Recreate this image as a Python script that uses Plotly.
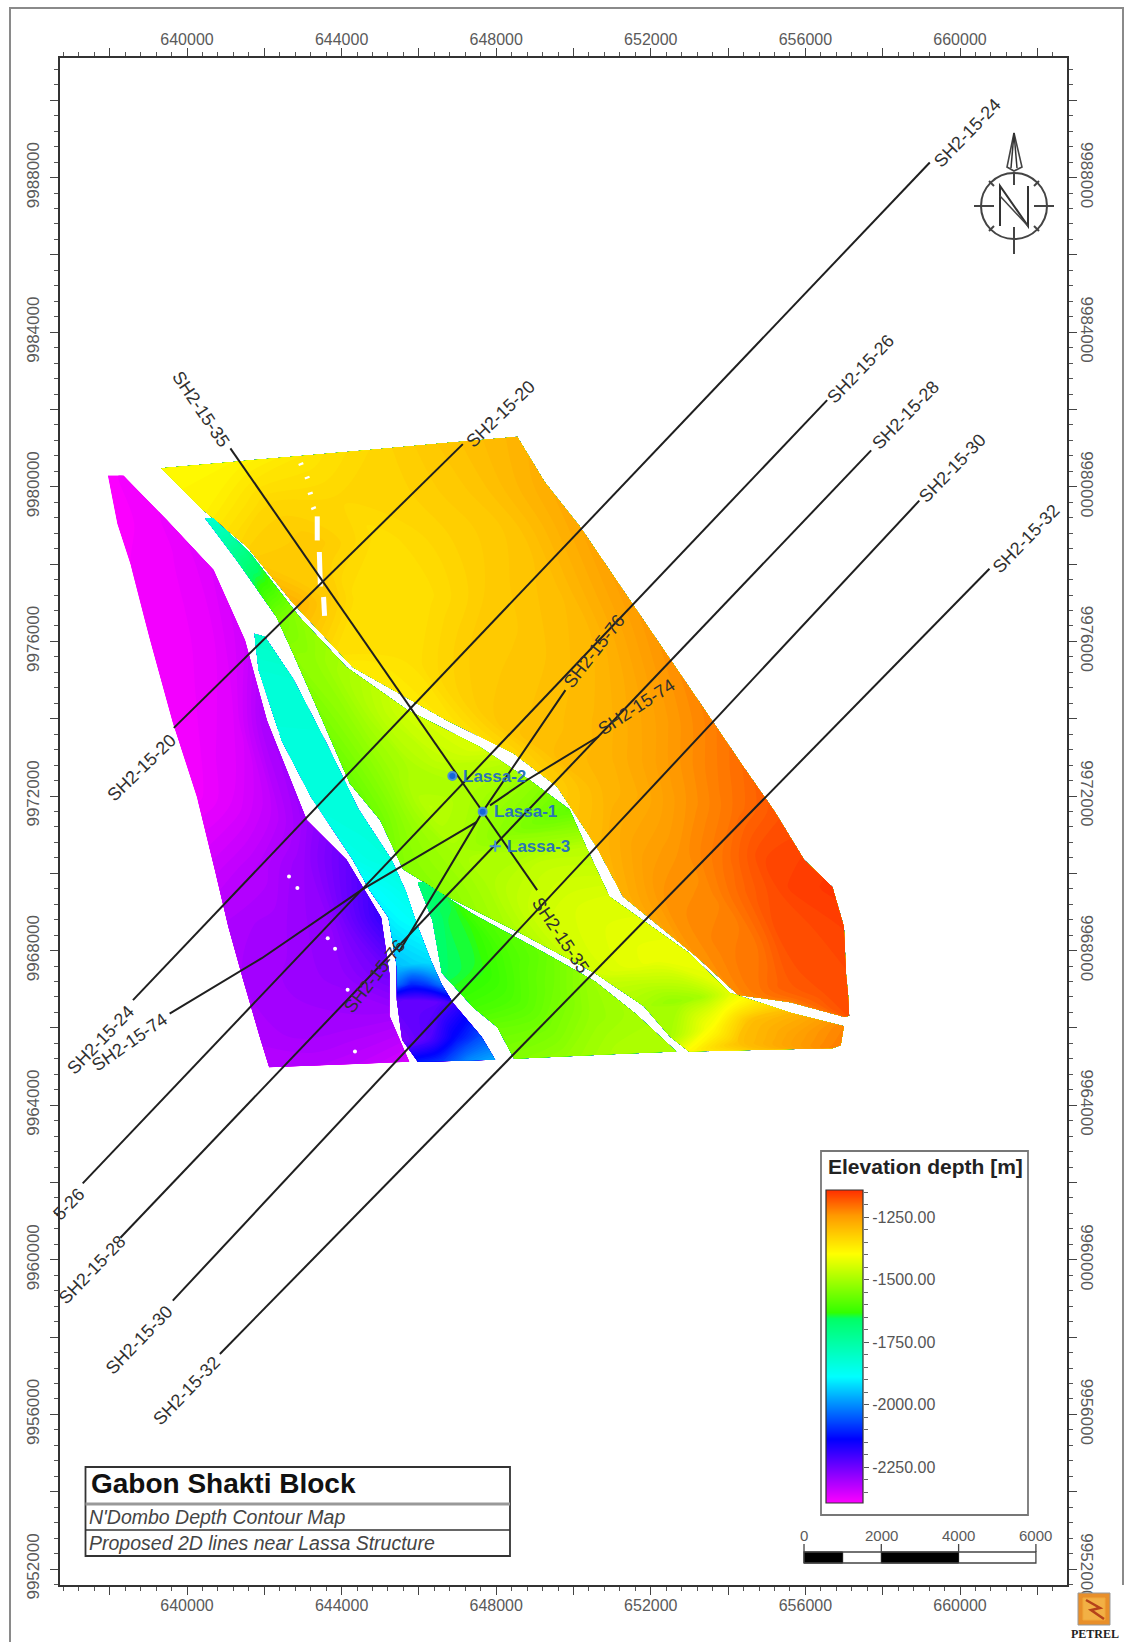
import numpy as np
import plotly.graph_objects as go

# ---------- data (map metres, depth in metres) ----------
X_TICKS = list(range(636000, 664000, 2000))
X_LABELLED = [640000, 644000, 648000, 652000, 656000, 660000]
Y_TICKS = list(range(9952000, 9992000, 2000))
Y_LABELLED = [9952000, 9956000, 9960000, 9964000, 9968000, 9972000, 9976000, 9980000, 9984000, 9988000]
DEPTH_TICKS = [-1250, -1500, -1750, -2000, -2250]
DEPTH_LABELS = ["-1250.00", "-1500.00", "-1750.00", "-2000.00", "-2250.00"]
DEPTH_MIN, DEPTH_MAX = -2393, -1141
SCALE_MARKS = [0, 2000, 4000, 6000]
SCALE_BLACK = [(0, 1000), (2000, 4000)]

WEST_LX = [637952, 638196, 638548, 639036, 639632, 640255, 640715, 641068, 641447, 641880, 642124]
WEST_LY = [9980291, 9979045, 9977961, 9976065, 9973898, 9971975, 9970105, 9968615, 9967261, 9965771, 9964985]
WEST_RX = [638359, 639496, 640688, 641501, 642070, 643099, 644129, 645023, 645239, 645239, 645754]
WEST_RY = [9980291, 9979126, 9977853, 9976038, 9973952, 9971379, 9970349, 9968859, 9967396, 9966313, 9965121]
WEST_Z = [
    [-2385, -2385, -2385, -2385],
    [-2385, -2385, -2380, -2375],
    [-2385, -2380, -2375, -2360],
    [-2385, -2380, -2370, -2345],
    [-2385, -2375, -2360, -2300],
    [-2380, -2360, -2330, -2290],
    [-2340, -2320, -2290, -2240],
    [-2310, -2300, -2280, -2190],
    [-2305, -2295, -2285, -2250],
    [-2310, -2300, -2300, -2300],
    [-2320, -2320, -2330, -2350],
]

CYAN_LX = [641745, 641853, 642449, 643208, 644291, 644725, 645212, 645429, 645429, 645429, 645565, 645971]
CYAN_LY = [9976201, 9975252, 9973437, 9971975, 9970349, 9969563, 9968859, 9967586, 9967125, 9966719, 9965690, 9965121]
CYAN_RX = [642016, 642747, 643614, 644427, 645294, 645673, 645944, 646323, 646594, 646892, 647623, 647976]
CYAN_RY = [9976119, 9975036, 9973356, 9971677, 9970349, 9969509, 9968697, 9967721, 9967125, 9966638, 9965771, 9965175]
CYAN_Z = [
    [-1800, -1800, -1800, -1800],
    [-1825, -1825, -1825, -1825],
    [-1835, -1835, -1835, -1835],
    [-1835, -1835, -1835, -1835],
    [-1860, -1850, -1845, -1840],
    [-1890, -1880, -1870, -1860],
    [-1900, -1890, -1885, -1880],
    [-1950, -1940, -1930, -1920],
    [-2030, -2100, -2080, -2020],
    [-2230, -2240, -2240, -2200],
    [-2260, -2220, -2130, -2060],
    [-2110, -2080, -2000, -1970],
]

LIME_LX = [640472, 641284, 642314, 642747, 643506, 644210, 644996, 645592, 646729, 648572, 650549, 651822, 652500, 652987, 656699]
LIME_LY = [9979180, 9978097, 9976634, 9975686, 9973952, 9972327, 9971379, 9970105, 9969401, 9968480, 9967423, 9966557, 9965771, 9965392, 9965473]
LIME_RX = [640688, 641637, 642910, 644129, 645700, 647569, 648870, 649899, 650332, 650928, 652987, 654044, 655615, 656997, 656915]
LIME_RY = [9979180, 9978286, 9976634, 9975334, 9974223, 9973275, 9972408, 9971649, 9970674, 9969401, 9967938, 9966909, 9966394, 9966042, 9965554]
LIME_Z = [
    [-1820, -1820, -1820, -1820],
    [-1720, -1700, -1700, -1680],
    [-1560, -1550, -1540, -1530],
    [-1530, -1525, -1510, -1500],
    [-1550, -1520, -1480, -1450],
    [-1570, -1510, -1470, -1440],
    [-1560, -1480, -1500, -1520],
    [-1540, -1500, -1540, -1580],
    [-1530, -1490, -1470, -1480],
    [-1490, -1450, -1440, -1440],
    [-1450, -1430, -1420, -1420],
    [-1500, -1520, -1500, -1430],
    [-1500, -1400, -1300, -1290],
    [-1390, -1300, -1260, -1225],
    [-1220, -1220, -1220, -1220],
]

GREEN_LX = [645971, 646350, 646594, 647407, 648030, 648463]
GREEN_LY = [9969753, 9968778, 9967423, 9966529, 9966015, 9965202]
GREEN_RX = [646106, 647407, 649303, 650549, 651606, 652662]
GREEN_RY = [9969780, 9968940, 9967911, 9967207, 9966367, 9965392]
GREEN_Z = [
    [-1680, -1680, -1680, -1680],
    [-1680, -1650, -1640, -1610],
    [-1660, -1640, -1600, -1570],
    [-1610, -1600, -1560, -1510],
    [-1570, -1560, -1520, -1500],
    [-1540, -1520, -1490, -1490],
]

NORTH_LX = [639334, 640417, 641555, 642747, 644291, 646729, 648436, 649574, 650603, 651281, 653204, 654260, 655615, 656997]
NORTH_LY = [9980481, 9979397, 9978449, 9976986, 9975334, 9973952, 9973112, 9972245, 9970674, 9969401, 9967830, 9966854, 9966665, 9966286]
NORTH_RX = [648544, 649249, 650170, 651145, 651958, 653583, 654396, 655209, 655967, 656699, 656997, 657051, 657105, 657132]
NORTH_RY = [9981293, 9980129, 9978964, 9977528, 9976336, 9973952, 9972760, 9971595, 9970349, 9969645, 9968615, 9967396, 9966854, 9966313]
NORTH_Z = [
    [-1390, -1385, -1360, -1335, -1310, -1285],
    [-1380, -1335, -1335, -1330, -1310, -1275],
    [-1330, -1315, -1350, -1330, -1310, -1265],
    [-1280, -1350, -1350, -1320, -1300, -1255],
    [-1370, -1350, -1320, -1310, -1290, -1245],
    [-1360, -1310, -1300, -1285, -1255, -1220],
    [-1335, -1295, -1285, -1260, -1230, -1200],
    [-1320, -1290, -1270, -1240, -1210, -1180],
    [-1290, -1260, -1240, -1210, -1170, -1160],
    [-1280, -1240, -1230, -1190, -1160, -1150],
    [-1240, -1220, -1210, -1170, -1170, -1160],
    [-1230, -1210, -1190, -1180, -1170, -1170],
    [-1220, -1200, -1190, -1180, -1170, -1170],
    [-1200, -1190, -1180, -1180, -1170, -1170],
]

# seismic lines: (name, eastings, northings)
LINE_NAMES = ["SH2-15-24", "SH2-15-20", "SH2-15-26", "SH2-15-28", "SH2-15-30", "SH2-15-32", "SH2-15-35", "SH2-15-76", "SH2-15-74"]
LINE_X = [
    [638602, 659218], [639659, 647136], [637302, 656563], [638277, 657701],
    [639632, 658947], [640851, 660762], [641122, 649059],
    [645483, 647650, 649791],
    [639551, 641935, 644508, 647488, None, 647840, 648788, 650657],
]
LINE_Y = [
    [9966719, 9988391], [9973762, 9981104], [9961978, 9982242], [9960570, 9980941],
    [9958944, 9979641], [9957563, 9977880], [9980995, 9969563],
    [9967965, 9971595, 9974738],
    [9966367, 9967803, 9969563, 9971324, None, 9971757, 9972408, 9973546],
]
LABEL_TEXT = ["SH2-15-24", "SH2-15-24", "SH2-15-20", "SH2-15-20", "SH2-15-26", "5-26", "SH2-15-28", "SH2-15-28",
              "SH2-15-30", "SH2-15-30", "SH2-15-32", "SH2-15-32", "SH2-15-35", "SH2-15-35", "SH2-15-76", "SH2-15-76",
              "SH2-15-74", "SH2-15-74"]
LABEL_X = [660193, 637763, 648111, 638819, 657430, 636950, 658595, 637546, 659814, 638765, 661710, 639984,
           640363, 649655, 650549, 644860, 651633, 638521]
LABEL_Y = [9989150, 9965690, 9981889, 9972733, 9983054, 9961436, 9981862, 9959730, 9980481, 9957915, 9978639, 9956614,
           9982025, 9968399, 9975740, 9967342, 9974304, 9965635]
LABEL_ANGLE = [-46, -46, -44, -44, -46, -46, -46, -46, -46, -46, -46, -46, 56, 56, -52, -52, -33, -35]

WELL_NAMES = ["Lassa-2", "Lassa-1", "Lassa-3"]
WELL_X = [646865, 647650, 647976]
WELL_Y = [9972516, 9971595, 9970701]
WELL_SYMBOLS = ["circle", "circle", "cross-thin"]
WELL_LABEL_X = [647100, 647900, 648230]

GAP_X = [642937, 642960, None, 643099, 643120, None, 643181, 643200, None, 643262, 643285, None,
         643370, 643370, None, 643424, 643452, None, 643533, 643560]
GAP_Y = [9980616, 9980560, None, 9980264, 9980210, None, 9979858, 9979800, None, 9979478, 9979420, None,
         9979235, 9978612, None, 9978314, 9977420, None, 9977149, 9976661]
SPECK_X = [642639, 642856, 643641, 643831, 644156, 644346, 642341]
SPECK_Y = [9969916, 9969618, 9968317, 9968046, 9966990, 9965392, 9973627]

# ---------- style ----------
W, H = 1125, 1642
L, R, T, B = 60, 1067, 58, 1585
PXM = 0.03865
X0 = 640000 + (L - 187) / PXM
X1 = 640000 + (R - 187) / PXM
Y0 = 9952000 + (1569 - B) / PXM
Y1 = 9952000 + (1569 - T) / PXM
FONT = "Liberation Sans"
TICK = "#5a5a5a"
COLORSCALE = [[0, "#ff00ff"], [0.205, "#0000ff"], [0.405, "#00ffff"], [0.59, "#00ff66"], [0.61, "#33ff00"],
              [0.797, "#ffff00"], [0.86, "#ffcc00"], [0.92, "#ff9900"], [1, "#ff3000"]]


def px(v):
    return (v - L) / (R - L)


def py(v):
    return (B - v) / (B - T)


fig = go.Figure()


def add_block(name, lx, ly, rx, ry, z):
    z = np.array(z, float)
    a = np.linspace(0, 1, z.shape[1])
    b = np.arange(z.shape[0])
    xs = np.outer(lx, 1 - a) + np.outer(rx, a)
    ys = np.outer(ly, 1 - a) + np.outer(ry, a)
    hidden = dict(showgrid=False, showline=False, showticklabels="none", startline=False, endline=False,
                  minorgridcount=0, smoothing=0)
    fig.add_trace(go.Carpet(carpet=name, a=a, b=b, x=xs, y=ys, aaxis=hidden, baxis=hidden,
                            xaxis="x", yaxis="y"))
    fig.add_trace(go.Contourcarpet(carpet=name, a=a, b=b, z=z, autocontour=False, zmin=DEPTH_MIN, zmax=DEPTH_MAX,
                                   colorscale=COLORSCALE, showscale=False, line=dict(width=0),
                                   contours=dict(coloring="fill", showlines=False, start=DEPTH_MIN, end=DEPTH_MAX, size=8),
                                   xaxis="x", yaxis="y"))


add_block("north", NORTH_LX, NORTH_LY, NORTH_RX, NORTH_RY, NORTH_Z)
add_block("lime", LIME_LX, LIME_LY, LIME_RX, LIME_RY, LIME_Z)
add_block("green", GREEN_LX, GREEN_LY, GREEN_RX, GREEN_RY, GREEN_Z)
add_block("cyan", CYAN_LX, CYAN_LY, CYAN_RX, CYAN_RY, CYAN_Z)
add_block("west", WEST_LX, WEST_LY, WEST_RX, WEST_RY, WEST_Z)

fig.add_trace(go.Scatter(x=GAP_X, y=GAP_Y, mode="lines", line=dict(color="white", width=5, dash="solid"),
                         hoverinfo="skip", showlegend=False))
fig.add_trace(go.Scatter(x=SPECK_X, y=SPECK_Y, mode="markers", marker=dict(color="white", size=4),
                         hoverinfo="skip", showlegend=False))

for name, lx, ly in zip(LINE_NAMES, LINE_X, LINE_Y):
    fig.add_trace(go.Scatter(x=lx, y=ly, mode="lines", name=name, line=dict(color="#1f1f1f", width=2),
                             showlegend=False))

fig.add_trace(go.Scatter(x=WELL_X, y=WELL_Y, mode="markers", marker=dict(color="#1565d8", size=8, symbol=WELL_SYMBOLS,
                         line=dict(color="#4a90d9", width=2)), showlegend=False))

annotations = []
for t, x, y, ang in zip(LABEL_TEXT, LABEL_X, LABEL_Y, LABEL_ANGLE):
    annotations.append(dict(x=x, y=y, xref="x", yref="y", text=t, textangle=ang, showarrow=False,
                            font=dict(family=FONT, size=18, color="#303030")))
for t, x, y in zip(WELL_NAMES, WELL_LABEL_X, WELL_Y):
    annotations.append(dict(x=x, y=y, xref="x", yref="y", text=f"<b>{t}</b>", showarrow=False, xanchor="left",
                            font=dict(family=FONT, size=17, color="#2a74b8")))

# colour legend as its own little axis pair
fig.add_trace(go.Heatmap(x=[0, 1], y=[DEPTH_MIN, DEPTH_MAX], z=[[DEPTH_MIN, DEPTH_MIN], [DEPTH_MAX, DEPTH_MAX]],
                         zmin=DEPTH_MIN, zmax=DEPTH_MAX, colorscale=COLORSCALE, zsmooth="best", showscale=False,
                         xaxis="x3", yaxis="y3", hoverinfo="skip"))
# invisible traces so the mirrored frame axes are drawn
fig.add_trace(go.Scatter(x=[None], y=[None], xaxis="x2", yaxis="y2", showlegend=False, hoverinfo="skip"))

shapes = []


def rect(x0, y0, x1, y1, line="#222", width=1.5, fill=None):
    shapes.append(dict(type="rect", xref="paper", yref="paper", x0=px(x0), x1=px(x1), y0=py(y0), y1=py(y1),
                       line=dict(color=line, width=width), fillcolor=fill, layer="above"))


def poly(points, color="#333", width=2, fill=None, close=False):
    p = "M " + " L ".join(f"{px(a):.5f},{py(b):.5f}" for a, b in points) + (" Z" if close else "")
    shapes.append(dict(type="path", xref="paper", yref="paper", path=p, line=dict(color=color, width=width),
                       fillcolor=fill, layer="above"))


def note(x, y, text, size, color="#333", bold=False, italic=False, anchor="center", family=FONT, angle=0):
    t = text
    if bold:
        t = f"<b>{t}</b>"
    if italic:
        t = f"<i>{t}</i>"
    annotations.append(dict(x=px(x), y=py(y), xref="paper", yref="paper", text=t, showarrow=False, xanchor=anchor,
                            yanchor="middle", textangle=angle, font=dict(family=family, size=size, color=color)))


# outer page border
poly([(10, 1642), (10, 8), (1123, 8), (1123, 1585)], color="#8a8a8a", width=2)

# legend box
rect(821, 1151, 1028, 1515, line="#777", width=1.8)
rect(826, 1190, 863, 1503, line="#333", width=1.2)
note(925, 1166, "Elevation depth [m]", 21, color="#222", bold=True)

# title box
rect(85.5, 1467, 510, 1556, line="#333", width=1.8)
poly([(85.5, 1504), (510, 1504)], color="#999", width=3)
poly([(85.5, 1530), (510, 1530)], color="#333", width=1.6)
note(89, 1483, "Gabon Shakti Block", 28, color="#111", bold=True, anchor="left")
note(87, 1517, "N'Dombo Depth Contour Map", 19.5, color="#444", italic=True, anchor="left")
note(87, 1543, "Proposed 2D lines near Lassa Structure", 19.5, color="#444", italic=True, anchor="left")

# scale bar (in map metres)
SCALE_X0 = 655964
for a, b in SCALE_BLACK:
    shapes.append(dict(type="rect", xref="x", yref="paper", x0=SCALE_X0 + a, x1=SCALE_X0 + b, y0=py(1563), y1=py(1552),
                       line=dict(color="#111", width=1), fillcolor="#000", layer="above"))
shapes.append(dict(type="rect", xref="x", yref="paper", x0=SCALE_X0, x1=SCALE_X0 + 6000, y0=py(1563), y1=py(1552),
                   line=dict(color="#444", width=1.3), layer="above"))
for m in SCALE_MARKS:
    shapes.append(dict(type="line", xref="x", yref="paper", x0=SCALE_X0 + m, x1=SCALE_X0 + m, y0=py(1552), y1=py(1544),
                       line=dict(color="#444", width=1.3), layer="above"))
    annotations.append(dict(x=SCALE_X0 + m, y=py(1535), xref="x", yref="paper", text=str(m), showarrow=False,
                            font=dict(family=FONT, size=15, color=TICK), yanchor="middle"))

# north arrow
CX, CY = 1014, 206
shapes.append(dict(type="circle", xref="paper", yref="paper", x0=px(CX - 33), x1=px(CX + 33), y0=py(CY - 33), y1=py(CY + 33),
                   line=dict(color="#444", width=2), layer="above"))
for seg in [[(974, 206), (994, 206)], [(1034, 206), (1054, 206)], [(1014, 172), (1014, 185)], [(1014, 227), (1014, 254)],
            [(989, 181), (994, 186)], [(1039, 181), (1034, 186)], [(989, 231), (994, 226)], [(1039, 231), (1034, 226)]]:
    poly(seg, color="#444", width=2)
poly([(1000, 226), (1000, 186), (1028, 226), (1028, 186)], color="#333", width=2)
poly([(1000, 196), (1028, 226)], color="#444", width=1.5)
poly([(1014, 133), (1007, 167), (1014, 171), (1022, 167)], color="#444", width=1.6, close=True)
poly([(1014, 133), (1011, 168)], color="#333", width=1.5)
poly([(1014, 133), (1017, 168)], color="#333", width=1.5)

# Petrel badge
rect(1078, 1593, 1110, 1625, line="#999", width=1, fill="#e88f2a")
rect(1083, 1598, 1105, 1620, line="#f0a83a", width=1, fill="#f2b045")
poly([(1086, 1600), (1100, 1608), (1091, 1610), (1104, 1619)], color="#b5421a", width=2.5)
note(1095, 1634, "PETREL", 12, color="#222", bold=True, family="Liberation Serif")


def frame_ticktext(ticks, labelled):
    return [str(t) if t in labelled else "" for t in ticks]


common = dict(showgrid=False, zeroline=False, showline=True, linecolor="#333", linewidth=1.5, ticks="outside", ticklen=8,
              tickcolor="#444", tickwidth=1.3)
xa = dict(common, range=[X0, X1], tickmode="array", tickvals=X_TICKS, ticktext=frame_ticktext(X_TICKS, X_LABELLED),
          minor=dict(ticks="outside", tick0=640000, dtick=400, ticklen=4, tickcolor="#555", tickwidth=1),
          tickangle=0, tickfont=dict(family=FONT, size=16, color=TICK), ticklabelstandoff=-3)
ya = dict(common, range=[Y0, Y1], tickmode="array", tickvals=Y_TICKS, ticktext=frame_ticktext(Y_TICKS, Y_LABELLED),
          minor=dict(ticks="outside", tick0=9952000, dtick=400, ticklen=4, tickcolor="#555", tickwidth=1),
          tickfont=dict(family=FONT, size=17, color=TICK))

fig.update_layout(
    width=W, height=H, margin=dict(l=L, r=W - R, t=T, b=H - B), paper_bgcolor="white", plot_bgcolor="white",
    showlegend=False, font=dict(family=FONT),
    xaxis=dict(xa, domain=[0, 1], anchor="y", side="bottom"),
    yaxis=dict(ya, domain=[0, 1], anchor="x", side="left", tickangle=-90, ticklabelstandoff=4),
    xaxis2=dict(xa, domain=[0, 1], anchor="y2", side="top", overlaying="x"),
    yaxis2=dict(ya, domain=[0, 1], anchor="x2", side="right", overlaying="y", tickangle=90, ticklabelstandoff=-3),
    xaxis3=dict(domain=[px(826), px(863)], range=[0, 1], anchor="y3", visible=False),
    yaxis3=dict(domain=[py(1503), py(1190)], range=[DEPTH_MIN, DEPTH_MAX], anchor="x3", side="right",
                showgrid=False, zeroline=False, showline=False, tickmode="array", tickvals=DEPTH_TICKS,
                ticktext=DEPTH_LABELS, ticks="outside", ticklen=5, tickcolor="#555",
                minor=dict(ticks="outside", tick0=-1250, dtick=50, ticklen=4, tickcolor="#666"),
                tickfont=dict(family=FONT, size=16, color="#555")),
    shapes=shapes, annotations=annotations,
)

fig.write_html("out.html", config={"displayModeBar": False}, post_script="document.body.style.margin='0';")
